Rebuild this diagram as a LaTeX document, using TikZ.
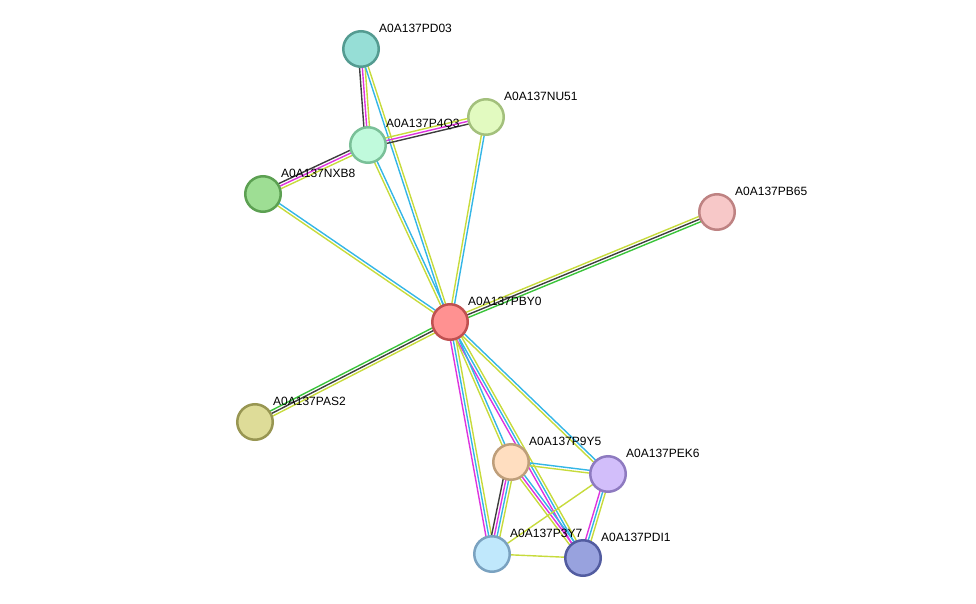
\documentclass[tikz,border=0pt]{standalone}
\usepackage{fontspec}
\setmainfont{Liberation Sans}
\usetikzlibrary{backgrounds,calc}
\definecolor{evtext}{RGB}{199,219,60}
\definecolor{evdb}{RGB}{52,182,230}
\definecolor{evexp}{RGB}{222,52,222}
\definecolor{evcoexp}{RGB}{62,62,62}
\definecolor{evnbh}{RGB}{58,196,58}
\definecolor{fpd03}{RGB}{150,222,214}\definecolor{dpd03}{RGB}{84,155,145}
\definecolor{fnu51}{RGB}{226,250,192}\definecolor{dnu51}{RGB}{163,192,124}
\definecolor{fp4q3}{RGB}{192,250,220}\definecolor{dp4q3}{RGB}{122,192,152}
\definecolor{fnxb8}{RGB}{158,222,148}\definecolor{dnxb8}{RGB}{92,160,82}
\definecolor{fpb65}{RGB}{247,200,200}\definecolor{dpb65}{RGB}{190,130,130}
\definecolor{fpby0}{RGB}{255,145,145}\definecolor{dpby0}{RGB}{192,80,80}
\definecolor{fpas2}{RGB}{222,220,152}\definecolor{dpas2}{RGB}{152,150,82}
\definecolor{fp9y5}{RGB}{255,222,192}\definecolor{dp9y5}{RGB}{190,158,122}
\definecolor{fpek6}{RGB}{210,190,250}\definecolor{dpek6}{RGB}{142,122,192}
\definecolor{fp3y7}{RGB}{192,232,252}\definecolor{dp3y7}{RGB}{122,162,192}
\definecolor{fpdi1}{RGB}{152,162,222}\definecolor{dpdi1}{RGB}{82,92,160}
\newcommand{\protnode}[4]{% name, x, y, label
  \node[prot,fill=f#1,draw=d#1] (#1) at (#2,#3) {};
  \node[plabel] (#1-lbl) at ([shift={(18,-21)}]#1) {#4};
}
\newcommand{\stringedge}[4]{% from, to, number of lines, colours
  \foreach \col [count=\i] in {#4}{
    \pgfmathsetmacro{\off}{(\i-(#3+1)/2)*2.8}
    \draw[evline,\col] ($(#1)!\off pt!90:(#2)$) -- ($(#2)!\off pt!-90:(#1)$);
  }
}

\begin{document}
\begin{tikzpicture}[x=1pt,y=-1pt,font=\fontsize{12}{14}\selectfont,
    prot/.style={circle,line width=2.5pt,minimum size=35.5pt,inner sep=0pt},
    plabel/.style={anchor=west,inner sep=0pt},
    evline/.style={line width=1.4pt}]
  \useasboundingbox (0,0) rectangle (976,604);
  \protnode{pd03}{361}{49}{A0A137PD03}
  \protnode{nu51}{486}{117}{A0A137NU51}
  \protnode{p4q3}{368}{145}{A0A137P4Q3}
  \protnode{nxb8}{263}{194}{A0A137NXB8}
  \protnode{pb65}{717}{212}{A0A137PB65}
  \protnode{pby0}{450}{322}{A0A137PBY0}
  \protnode{pas2}{255}{422}{A0A137PAS2}
  \protnode{p9y5}{511}{462}{A0A137P9Y5}
  \protnode{pek6}{608}{474}{A0A137PEK6}
  \protnode{p3y7}{492}{554}{A0A137P3Y7}
  \protnode{pdi1}{583}{558}{A0A137PDI1}
  \begin{pgfonlayer}{background}
    \stringedge{pd03}{p4q3}{3}{evcoexp,evexp,evtext}
    \stringedge{pd03}{pby0}{2}{evdb,evtext}
    \stringedge{p4q3}{nu51}{3}{evcoexp,evexp,evtext}
    \stringedge{nxb8}{p4q3}{3}{evtext,evexp,evcoexp}
    \stringedge{p4q3}{pby0}{2}{evtext,evdb}
    \stringedge{nu51}{pby0}{2}{evtext,evdb}
    \stringedge{nxb8}{pby0}{2}{evtext,evdb}
    \stringedge{pby0}{pb65}{3}{evnbh,evcoexp,evtext}
    \stringedge{pas2}{pby0}{3}{evtext,evcoexp,evnbh}
    \stringedge{pby0}{p3y7}{3}{evexp,evdb,evtext}
    \stringedge{pby0}{pdi1}{3}{evexp,evdb,evtext}
    \stringedge{pby0}{p9y5}{2}{evtext,evdb}
    \stringedge{pby0}{pek6}{2}{evtext,evdb}
    \stringedge{p9y5}{pek6}{2}{evtext,evdb}
    \stringedge{p9y5}{p3y7}{4}{evcoexp,evexp,evdb,evtext}
    \stringedge{p9y5}{pdi1}{3}{evtext,evexp,evdb}
    \stringedge{pek6}{pdi1}{3}{evexp,evdb,evtext}
    \stringedge{pek6}{p3y7}{1}{evtext}
    \stringedge{p3y7}{pdi1}{1}{evtext}
  \end{pgfonlayer}
\end{tikzpicture}
\end{document}
